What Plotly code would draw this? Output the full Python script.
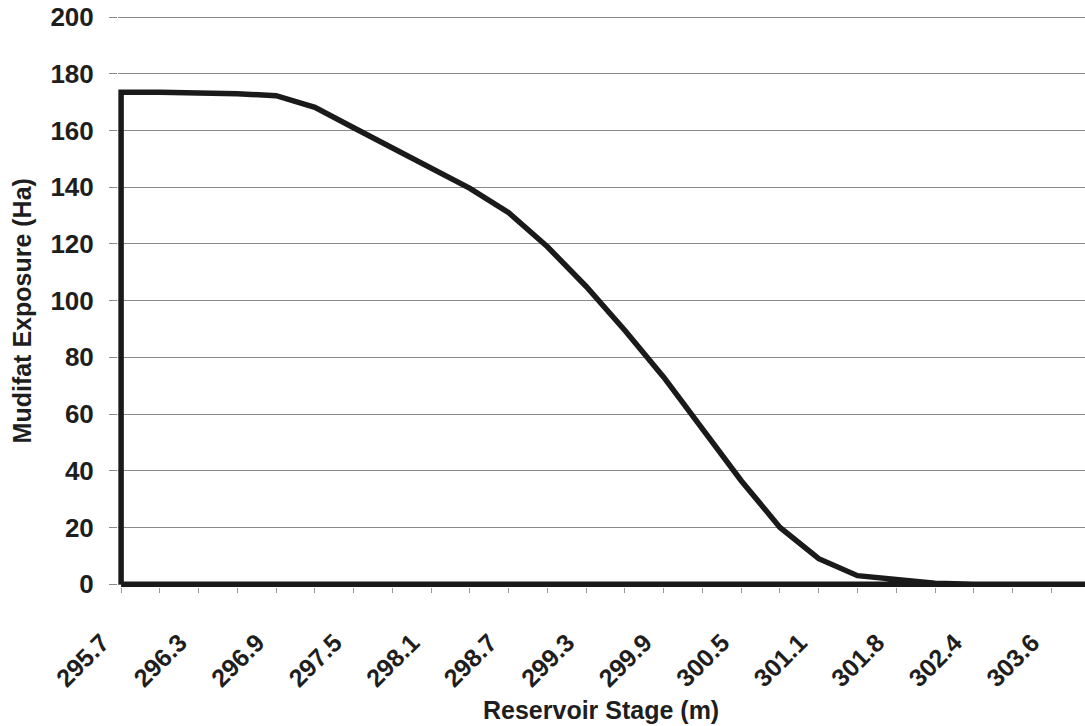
import plotly.graph_objects as go

# Reservoir stage categories (m) and mudflat exposure (Ha)
stage = ["295.7", "296.0", "296.3", "296.6", "296.9", "297.2", "297.5", "297.8",
         "298.1", "298.4", "298.7", "299.0", "299.3", "299.6", "299.9", "300.2",
         "300.5", "300.8", "301.1", "301.4", "301.8", "302.1", "302.4", "303.0",
         "303.6", "304.2"]
exposure = [173.5, 173.5, 173.4, 173.0, 172.3, 168.2, 161.0, 154.0,
            147.0, 139.6, 131.0, 119.0, 105.0, 89.5, 73.0, 54.5,
            36.5, 20.0, 9.0, 3.0, 1.5, 0.3, 0.0, 0.0,
            0.0, 0.0]
yticks = [0, 20, 40, 60, 80, 100, 120, 140, 160, 180, 200]

pos = list(range(len(stage)))
label_pos = pos[::2]
label_txt = stage[::2]

# outline of the area (Excel area chart drawn with border only)
xs = [pos[0]] + pos + [pos[0]]
ys = [0] + exposure + [0]

fig = go.Figure()
fig.add_trace(go.Scatter(
    x=xs, y=ys, mode="lines",
    line=dict(color="#1a1a1a", width=5.5),
    hoverinfo="skip", showlegend=False,
))

font_family = "Liberation Sans, Arial, sans-serif"
txt_color = "#1e1e1e"
fig.update_layout(
    width=1085, height=726, autosize=False,
    margin=dict(l=118, r=0, t=16, b=139),
    paper_bgcolor="white", plot_bgcolor="white",
    font=dict(family=font_family, color=txt_color, size=25, weight="bold"),
    showlegend=False,
)
fig.update_xaxes(
    automargin=False,
    range=[-0.08, 24.87],
    tickmode="array", tickvals=label_pos, ticktext=label_txt,
    tickangle=-45,
    tickfont=dict(size=25, family=font_family, weight="bold", color=txt_color),
    ticks="outside", ticklen=5, tickcolor="#999999", tickwidth=1,
    minor=dict(ticks="outside", ticklen=5, tickcolor="#999999", dtick=1, tick0=0, showgrid=False),
    ticklabelstandoff=25, ticklabelshift=-19,
    ticklabeloverflow="allow",
    showgrid=False, zeroline=False, showline=False,
)
fig.update_yaxes(
    automargin=False,
    range=[-1, 200.4],
    tickmode="array", tickvals=yticks,
    tickfont=dict(size=26, family=font_family, weight="bold", color=txt_color),
    ticks="outside", ticklen=8, tickcolor="#8a8a8a", tickwidth=1,
    ticklabelstandoff=10,
    ticklabeloverflow="allow",
    showgrid=True, gridcolor="#8a8a8a", gridwidth=1,
    zeroline=False, showline=False,
)
fig.add_annotation(
    text="Reservoir Stage (m)", xref="paper", yref="paper",
    x=0.4995, y=-0.216, xanchor="center", yanchor="middle", showarrow=False,
    font=dict(size=25, family=font_family, weight="bold", color=txt_color),
)
fig.add_annotation(
    text="Mudifat Exposure (Ha)", xref="paper", yref="paper",
    x=-0.0995, y=0.484, xanchor="center", yanchor="middle", showarrow=False,
    textangle=-90,
    font=dict(size=25, family=font_family, weight="bold", color=txt_color),
)

fig.write_html("out.html", config={"displayModeBar": False},
               post_script="document.body.style.margin='0px';")
